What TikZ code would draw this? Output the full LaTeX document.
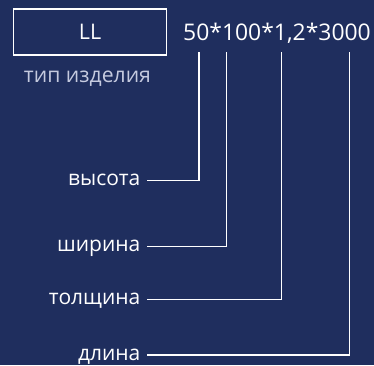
\documentclass[tikz,border=0pt]{standalone}
\usepackage{fontspec}
\setmainfont{Open Sans}
\usepackage{xcolor}
\usepackage{tikz}
\usetikzlibrary{positioning,calc}
\definecolor{navy}{HTML}{1F2E5E}
\definecolor{capgray}{HTML}{C5CADF}
\begin{document}
\begin{tikzpicture}[
  x=1pt,y=-1pt,
  typebox/.style={rectangle,draw=white,line width=1.8pt,minimum width=153pt,minimum height=46pt,inner sep=0pt,text=white,font=\fontsize{21.5}{24}\selectfont},
  caption/.style={text=capgray,inner sep=0pt,anchor=base,font=\fontsize{21.2}{26}\selectfont},
  dims/.style={text=white,inner sep=0pt,anchor=base west,font=\fontsize{22.9}{26}\selectfont},
  label/.style={text=white,anchor=east,inner xsep=6.5pt,inner ysep=0pt,text height=10pt,text depth=0pt,font=\fontsize{21}{26}\selectfont},
  link/.style={draw=white,line width=1.5pt}]
\fill[navy] (0,0) rectangle (374,365);
\useasboundingbox (0,0) rectangle (374,365);
\node[typebox] (type) at (90,32.3) {LL};
\node[caption] (typecap) at (87.5,82.3) {тип изделия};
\node[dims] (size) at (183,40) {50*100*1,2*3000};
\coordinate (d1) at (199,52);
\coordinate (d2) at (226.7,52);
\coordinate (d3) at (281.7,52);
\coordinate (d4) at (349.3,52);
\node[label] (height) at (147,180.7) {высота};
\node[label] (width) at (147,246.7) {ширина};
\node[label] (thick) at (147,299.3) {толщина};
\node[label] (length) at (147,355) {длина};
\draw[link] (height.east) -| (d1);
\draw[link] (width.east) -| (d2);
\draw[link] (thick.east) -| (d3);
\draw[link] (length.east) -| (d4);
\end{tikzpicture}
\end{document}
